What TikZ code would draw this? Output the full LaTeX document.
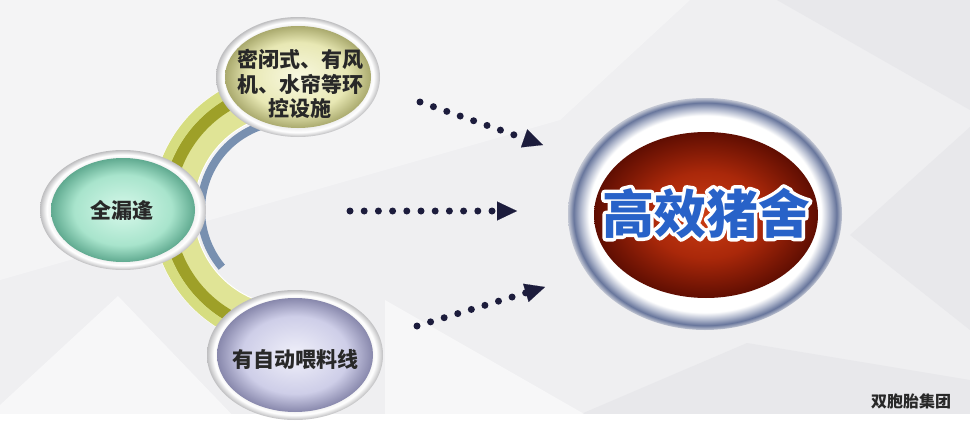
\documentclass[tikz,border=0pt]{standalone}
\usepackage{fontspec}
\newfontfamily\cjk{Noto Sans CJK SC}
\usepackage{tikz}
\usetikzlibrary{shapes.geometric, arrows.meta, calc}
\definecolor{bgbase}{RGB}{239,239,241}
\definecolor{bgdark}{RGB}{232,232,235}
\definecolor{limelight}{RGB}{214,221,128}
\definecolor{limeinner}{RGB}{224,228,150}
\definecolor{olive}{RGB}{158,160,40}
\definecolor{steel}{RGB}{120,144,176}
\definecolor{navy}{RGB}{28,28,60}
\definecolor{rimin}{RGB}{236,236,236}
\definecolor{rimout}{RGB}{190,190,192}
\definecolor{greenc}{RGB}{214,248,234}
\definecolor{greenm}{RGB}{168,228,204}
\definecolor{greene}{RGB}{96,170,144}
\definecolor{yellowc}{RGB}{248,248,224}
\definecolor{yellowm}{RGB}{232,232,180}
\definecolor{yellowe}{RGB}{170,170,110}
\definecolor{lilacc}{RGB}{240,240,250}
\definecolor{lilacm}{RGB}{206,206,232}
\definecolor{lilace}{RGB}{136,136,172}
\definecolor{ringmid}{RGB}{172,180,202}
\definecolor{ringdark}{RGB}{104,118,156}
\definecolor{ringedge}{RGB}{196,200,212}
\definecolor{redc}{RGB}{204,62,20}
\definecolor{redm}{RGB}{170,40,10}
\definecolor{rede}{RGB}{96,14,2}
\definecolor{titleblue}{RGB}{40,98,200}
\definecolor{ink}{RGB}{40,40,40}
% shadings for the bubbles
\pgfdeclareradialshading{rimshade}{\pgfpoint{0bp}{0bp}}{color(0bp)=(white); color(21bp)=(rimin); color(23bp)=(white); color(25bp)=(rimout); color(50bp)=(rimout)}
\pgfdeclareradialshading{greenshade}{\pgfpoint{0bp}{0bp}}{color(0bp)=(greenc); color(17bp)=(greenm); color(25bp)=(greene); color(50bp)=(greene)}
\pgfdeclareradialshading{yellowshade}{\pgfpoint{0bp}{0bp}}{color(0bp)=(yellowc); color(17bp)=(yellowm); color(25bp)=(yellowe); color(50bp)=(yellowe)}
\pgfdeclareradialshading{lilacshade}{\pgfpoint{0bp}{0bp}}{color(0bp)=(lilacc); color(17bp)=(lilacm); color(25bp)=(lilace); color(50bp)=(lilace)}
\pgfdeclareradialshading{ringshade}{\pgfpoint{0bp}{0bp}}{color(0bp)=(white); color(21.2bp)=(white); color(22.8bp)=(ringmid); color(24bp)=(ringdark); color(25bp)=(ringedge); color(50bp)=(ringedge)}
\pgfdeclareradialshading{redshade}{\pgfpoint{0bp}{0bp}}{color(0bp)=(redc); color(13bp)=(redm); color(25bp)=(rede); color(50bp)=(rede)}
% white outline behind a text
\newcommand{\outlined}[1]{\rlap{\color{white}\special{pdf:literal direct 2 Tr 1 1 1 RG 7 w 1 j}#1\special{pdf:literal direct 0 Tr}}#1}
\tikzset{
	rim/.style 2 args={ellipse, shading=rimshade, inner sep=0, minimum width=#1, minimum height=#2},
	ball/.style n args={3}{ellipse, shading=#1, inner sep=0, minimum width=#2, minimum height=#3},
	caption/.style={font=\cjk\bfseries\fontsize{21}{24.5}\selectfont, text=ink, align=center, inner sep=0},
	title/.style={font=\cjk\bfseries\fontsize{52}{56}\selectfont, text=titleblue, inner sep=0},
	dotarrow/.style={draw=navy, line width=7, line cap=round, dash pattern=on 0pt off 14.2pt, -{Triangle[length=20pt,width=19pt,line width=0.1pt]}}
}
\begin{document}
\begin{tikzpicture}[x=1pt,y=-1pt]
	\useasboundingbox (0,0) rectangle (970,423);
	% background
	\fill[bgbase] (0,0) rectangle (970,423);
	\fill[white,opacity=.35] (0,0) -- (690,0) -- (560,120) -- (0,280) -- cycle;
	\fill[bgdark] (777,0) -- (970,0) -- (970,110) -- cycle;
	\fill[bgdark] (970,127) -- (850,235) -- (970,330) -- cycle;
	\fill[bgdark] (560,423) -- (747,343) -- (970,380) -- (970,423) -- cycle;
	\fill[white,opacity=.5] (0,405) -- (118,296) -- (240,423) -- (0,423) -- cycle;
	\fill[white,opacity=.5] (385,300) -- (600,423) -- (385,423) -- cycle;
	\fill[white] (0,414) rectangle (970,423);
	% ring behind the bubbles
	\fill[steel] (290,210) ++(250:93) arc[start angle=250,end angle=140,radius=93]
		-- ++(140:-8) arc[start angle=140,end angle=250,radius=85] -- cycle;
	\fill[limeinner,draw=white,line width=1] (290,210) ++(250:138) arc[start angle=250,end angle=110,radius=138]
		-- ++(110:-42) arc[start angle=110,end angle=250,radius=96] -- cycle;
	\fill[olive] (290,210) ++(250:128) arc[start angle=250,end angle=110,radius=128]
		-- ++(110:-12) arc[start angle=110,end angle=250,radius=116] -- cycle;
	\fill[limelight] (290,210) ++(250:138) arc[start angle=250,end angle=110,radius=138]
		-- ++(110:-10) arc[start angle=110,end angle=250,radius=128] -- cycle;
	% bubbles
	\node[rim={164}{120}] (seal) at (298,77) {};
	\node[ball={yellowshade}{146}{102}] (sealin) at (seal) {};
	\node[caption] (sealtxt) at (300,84) {密闭式、有风\\机、水帘等环\\控设施};
	\node[rim={166}{120}] (slat) at (123,210) {};
	\node[ball={greenshade}{144}{104}] (slatin) at (slat) {};
	\node[caption] (slattxt) at (122,210) {全漏逢};
	\node[rim={176}{130}] (feed) at (295,355) {};
	\node[ball={lilacshade}{156}{114}] (feedin) at (feed) {};
	\node[caption] (feedtxt) at (295,360) {有自动喂料线};
	% target
	\node[ball={ringshade}{274}{232}] (houserim) at (705,214) {};
	\node[ball={redshade}{224}{166}] (house) at (706,215) {};
	\node[title] (housetxt) at (706,213) {\outlined{高效猪舍}};
	% dotted arrows
	\coordinate (a1) at (420,102);
	\coordinate (b1) at (543,145);
	\coordinate (a2) at (350,211);
	\coordinate (b2) at (517,211);
	\coordinate (a3) at (417,326);
	\coordinate (b3) at (545,287);
	\draw[dotarrow] (a1) -- (b1);
	\draw[dotarrow] (a2) -- (b2);
	\draw[dotarrow] (a3) -- (b3);
	% brand
	\node[font=\cjk\bfseries\fontsize{16}{18}\selectfont, text=ink, inner sep=0] (brand) at (911,401) {双胞胎集团};
\end{tikzpicture}
\end{document}
